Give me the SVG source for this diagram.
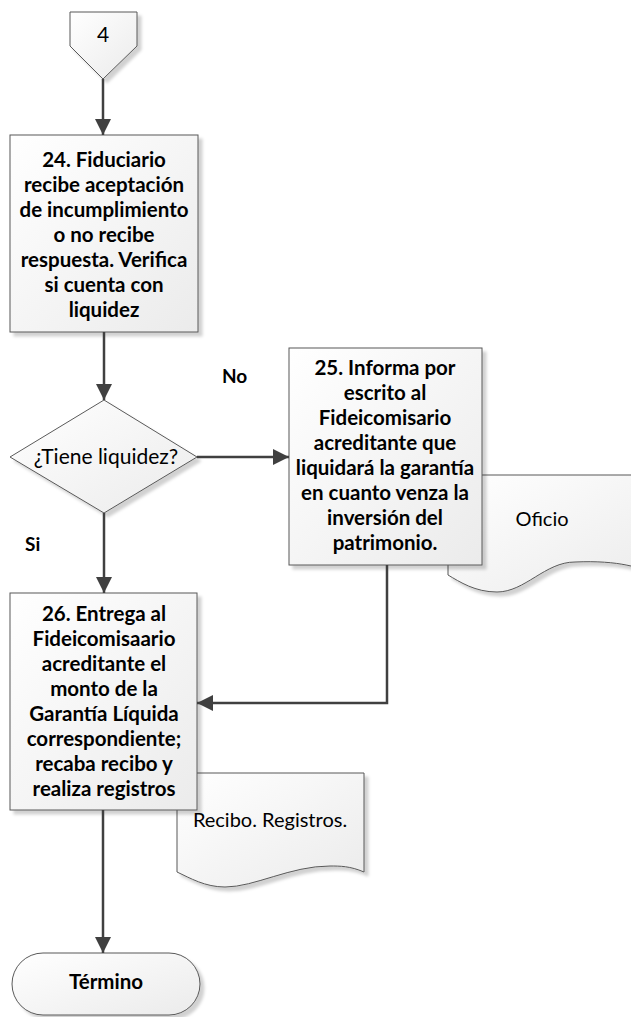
<svg xmlns="http://www.w3.org/2000/svg" width="631" height="1017" viewBox="0 0 631 1017">
<defs>
<linearGradient id="g" x1="0" y1="0" x2="1" y2="1">
<stop offset="0" stop-color="#ffffff"/>
<stop offset="1" stop-color="#ebebeb"/>
</linearGradient>
<filter id="sh" x="-10%" y="-10%" width="130%" height="130%">
<feDropShadow dx="4" dy="4" stdDeviation="1.5" flood-color="#000" flood-opacity="0.18"/>
</filter>
<marker id="ah" viewBox="0 0 10 10" refX="10" refY="5" markerWidth="17" markerHeight="16" markerUnits="userSpaceOnUse" orient="auto">
<path d="M0,0 L10,5 L0,10 z" fill="#404040"/>
</marker>
</defs>
<style>
.shape{fill:url(#g);stroke:#595959;stroke-width:1;filter:url(#sh)}
.b{font-family:Lato,"Liberation Sans",sans-serif;font-weight:bold;font-size:20.5px;fill:#000;text-anchor:middle}
.n{font-family:Lato,"Liberation Sans",sans-serif;font-size:20px;fill:#000;text-anchor:middle}
.lbl{font-family:Lato,"Liberation Sans",sans-serif;font-weight:bold;font-size:19px;fill:#000}
.c{fill:none;stroke:#404040;stroke-width:2.5;marker-end:url(#ah)}
</style>
<rect width="631" height="1017" fill="#fff"/>
<g id="doc-oficio">
<path class="shape" d="M448,475 L660,475 L660,575 C640,568 620,560 575,562 C545,562 525,592 497,592 C475,592 460,582 448,575 Z"/>
<text class="n" x="542" y="526">Oficio</text>
</g>
<g id="doc-recibo">
<path class="shape" d="M177,773 L364,773 L364,872 C350,866 340,866 330,866 C290,866 255,887 225,887 C205,887 190,878 177,872 Z"/>
</g>
<g id="conn4">
<polygon class="shape" points="70,12 137,12 137,46 103,79 70,46"/>
<text class="n" x="103" y="42" style="font-size:21px">4</text>
</g>
<g id="step24">
<rect class="shape" x="10" y="135" width="188" height="197"/>
<text class="b" x="104" y="167">24. Fiduciario</text>
<text class="b" x="104" y="192">recibe aceptación</text>
<text class="b" x="104" y="217">de incumplimiento</text>
<text class="b" x="104" y="242">o no recibe</text>
<text class="b" x="104" y="267">respuesta. Verifica</text>
<text class="b" x="104" y="292">si cuenta con</text>
<text class="b" x="104" y="317">liquidez</text>
</g>
<g id="decision">
<polygon class="shape" points="104,400 197,457 104,513 10,457"/>
<text class="n" x="106" y="464" style="font-size:21px">¿Tiene liquidez?</text>
</g>
<g id="step25">
<rect class="shape" x="289" y="348" width="193" height="217"/>
<text class="b" x="385" y="375">25. Informa por</text>
<text class="b" x="385" y="400">escrito al</text>
<text class="b" x="385" y="425">Fideicomisario</text>
<text class="b" x="385" y="450">acreditante que</text>
<text class="b" x="385" y="475">liquidará la garantía</text>
<text class="b" x="385" y="500">en cuanto venza la</text>
<text class="b" x="385" y="525">inversión del</text>
<text class="b" x="385" y="550">patrimonio.</text>
</g>
<g id="step26">
<rect class="shape" x="10" y="593" width="187" height="217"/>
<text class="b" x="104" y="621">26. Entrega al</text>
<text class="b" x="104" y="646">Fideicomisaario</text>
<text class="b" x="104" y="671">acreditante el</text>
<text class="b" x="104" y="696">monto de la</text>
<text class="b" x="104" y="721">Garantía Líquida</text>
<text class="b" x="104" y="746">correspondiente;</text>
<text class="b" x="104" y="771">recaba recibo y</text>
<text class="b" x="104" y="796">realiza registros</text>
</g>
<text class="n" x="270" y="827">Recibo. Registros.</text>
<g id="end">
<rect class="shape" x="12" y="953" width="188" height="62" rx="31" ry="31"/>
<text class="b" x="106" y="989">Término</text>
</g>
<g id="connectors">
<path class="c" d="M103,79 L103,135"/>
<path class="c" d="M104,332 L104,400"/>
<path class="c" d="M197,457 L289,457"/>
<path class="c" d="M104,513 L104,593"/>
<path class="c" d="M387,565 L387,703 L197,703"/>
<path class="c" d="M103,810 L103,953"/>
<text class="lbl" x="222" y="383">No</text>
<text class="lbl" x="25" y="551">Si</text>
</g>
</svg>
